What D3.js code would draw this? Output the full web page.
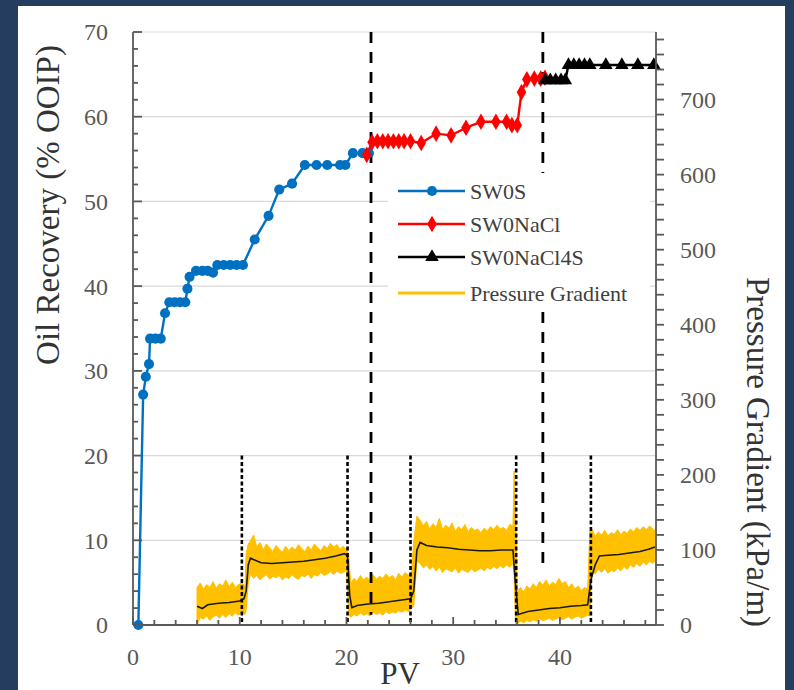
<!DOCTYPE html>
<html>
<head>
<meta charset="utf-8">
<script src="https://cdn.jsdelivr.net/npm/d3@7"></script>
<style>
  html, body { margin: 0; padding: 0; background: #253d5e; }
  svg { display: block; }
</style>
</head>
<body>
<div id="chart"></div>
<script>
'use strict';

// Oil recovery (% OOIP) vs PV, one array pair per brine
const sw0sPV = [0.5, 0.95, 1.2, 1.5, 1.6, 2.1, 2.6, 3.0, 3.4, 3.9, 4.4, 4.9, 5.1, 5.3, 5.9, 6.5, 7.0, 7.5, 7.9, 8.5, 9.1, 9.7, 10.3, 11.4, 12.7, 13.7, 14.9, 16.1, 17.2, 18.2, 19.4, 19.9, 20.6, 21.5, 22.1];
const sw0sRec = [0, 27.2, 29.3, 30.8, 33.8, 33.8, 33.8, 36.8, 38.1, 38.1, 38.1, 38.1, 39.7, 41.1, 41.8, 41.8, 41.8, 41.6, 42.5, 42.5, 42.5, 42.5, 42.5, 45.5, 48.3, 51.4, 52.1, 54.3, 54.3, 54.3, 54.3, 54.3, 55.7, 55.7, 55.7];

const naclPV = [21.9, 22.4, 22.9, 23.4, 23.9, 24.4, 24.9, 25.4, 26.0, 27.0, 28.4, 29.8, 31.2, 32.6, 34.0, 35.0, 35.5, 36.0, 36.4, 36.9, 37.6, 38.2, 38.6];
const naclRec = [55.5, 57.0, 57.1, 57.1, 57.1, 57.1, 57.1, 57.1, 57.1, 56.9, 58.0, 57.8, 58.7, 59.4, 59.4, 59.4, 59.0, 59.0, 62.9, 64.4, 64.5, 64.5, 64.6];

const nacl4sPV = [38.6, 39.1, 39.6, 40.1, 40.5, 40.8, 41.3, 41.8, 42.3, 42.8, 44.3, 45.8, 47.3, 48.8];
const nacl4sRec = [64.3, 64.3, 64.3, 64.3, 64.3, 66.1, 66.1, 66.1, 66.1, 66.1, 66.1, 66.1, 66.1, 66.1];

// Pressure gradient (kPa/m): noisy raw band (upper / lower envelope) and smoothed trace
const bandPV = [6.0, 6.3, 6.6, 6.9, 7.2, 7.5, 7.8, 8.1, 8.4, 8.7, 9.0, 9.3, 9.6, 9.9, 10.2, 10.5,
  10.6, 10.8,
  11.0, 11.3, 11.6, 11.9, 12.2, 12.5, 12.8, 13.1, 13.4, 13.7, 14.0, 14.3, 14.6, 14.9, 15.2, 15.5, 15.8, 16.1, 16.4, 16.7, 17.0, 17.3, 17.6, 17.9, 18.2, 18.5, 18.8, 19.1, 19.4, 19.7, 20.0,
  20.2,
  20.4, 20.7, 21.0, 21.3, 21.6, 21.9, 22.2, 22.5, 22.8, 23.1, 23.4, 23.7, 24.0, 24.3, 24.6, 24.9, 25.2, 25.5, 25.8, 26.1,
  26.3, 26.6,
  26.9, 27.2, 27.5, 27.8, 28.1, 28.4, 28.7, 29.0, 29.3, 29.6, 29.9, 30.2, 30.5, 30.8, 31.1, 31.4, 31.7, 32.0, 32.3, 32.6, 32.9, 33.2, 33.5, 33.8, 34.1, 34.4, 34.7, 35.0, 35.3, 35.6,
  35.7, 35.85,
  36.0, 36.3, 36.6, 36.9, 37.2, 37.5, 37.8, 38.1, 38.4, 38.7, 39.0, 39.3, 39.6, 39.9, 40.2, 40.5, 40.8, 41.1, 41.4, 41.7, 42.0, 42.3, 42.6,
  42.8,
  43.0, 43.3, 43.6, 43.9, 44.2, 44.5, 44.8, 45.1, 45.4, 45.7, 46.0, 46.3, 46.6, 46.9, 47.2, 47.5, 47.8, 48.1, 48.4, 48.7,
  48.9];
const bandHigh = [50, 56, 48, 54, 50, 58, 49, 55, 52, 60, 51, 57, 50, 54, 56, 52,
  95, 108,
  112, 120, 104, 110, 100, 108, 103, 98, 106, 101, 97, 105, 99, 104, 100, 107, 102, 98, 105, 100, 108, 103, 99, 106, 102, 109, 104, 107, 101, 105, 100,
  95,
  55, 62, 58, 66, 60, 64, 59, 67, 61, 65, 62, 68, 63, 66, 60, 69, 64, 70, 66, 72,
  110, 145,
  140, 132, 138, 128, 135, 130, 142, 127, 133, 129, 136, 125, 131, 127, 134, 124, 130, 126, 128, 123, 129, 125, 131, 127, 133, 128, 130, 126, 134, 132,
  205, 150,
  45, 50, 44, 52, 48, 55, 50, 58, 53, 60, 52, 57, 54, 62, 55, 58, 50, 55, 48, 52, 46, 50, 48,
  125,
  128, 118, 124, 120, 126, 119, 123, 121, 127, 120, 125, 122, 128, 124, 130, 126, 131, 127, 132, 128,
  125];
const bandLow = [0, 10, 8, 12, 6, 11, 13, 9, 14, 10, 15, 12, 16, 13, 17, 14,
  20, 55,
  68, 62, 66, 60, 64, 67, 61, 65, 63, 66, 60, 64, 62, 67, 63, 61, 66, 64, 68, 62, 67, 65, 70, 66, 68, 71, 67, 72, 69, 70, 73,
  15,
  10, 14, 12, 16, 13, 15, 12, 17, 14, 16, 13, 18, 15, 17, 16, 19, 17, 20, 18, 22,
  25, 85,
  82, 76, 80, 74, 78, 72, 77, 70, 75, 73, 71, 76, 69, 74, 72, 70, 75, 71, 73, 76, 72, 77, 74, 78, 75, 79, 76, 80, 77, 82,
  70, 0,
  2, 5, 3, 6, 4, 7, 5, 8, 6, 7, 9, 6, 8, 10, 7, 9, 11, 8, 10, 12, 9, 11, 13,
  12,
  72, 68, 74, 70, 75, 69, 73, 71, 76, 72, 78, 74, 80, 77, 82, 78, 84, 80, 85, 82,
  85];

const meanPV = [6.0, 6.5, 7.0, 8.0, 9.0, 10.0, 10.4, 10.6, 10.8, 11.0, 11.5, 12.0, 13.0, 14.0, 15.0, 16.0, 17.0, 18.0, 19.0, 19.8, 20.1, 20.3, 20.5, 21.0, 22.0, 23.0, 24.0, 25.0, 26.0, 26.3, 26.6, 26.9, 27.5, 28.5, 29.5, 30.5, 31.5, 32.5, 33.5, 34.5, 35.6, 35.8, 36.1, 37.0, 38.0, 39.0, 40.0, 41.0, 42.0, 42.6, 42.9, 43.3, 43.7, 44.5, 45.5, 46.5, 47.5, 48.3, 48.9];
const meanGrad = [25, 22, 27, 29, 30, 32, 35, 45, 80, 89, 86, 83, 82, 83, 84, 85, 87, 89, 92, 95, 92, 40, 23, 26, 28, 29, 31, 33, 35, 45, 100, 110, 106, 104, 103, 101, 100, 99, 99, 100, 100, 60, 14, 18, 20, 22, 23, 25, 26, 27, 60, 80, 92, 93, 94, 96, 98, 101, 104];

// brine switch markers
const switchPV = [22.3, 38.4];
const switchEnd = [1.2, 6.3];          // lower end, in % OOIP units
const rateChangePV = [10.2, 20.1, 26.0, 35.9, 42.9];
const rateChangeTop = 20;

const leftTicks = [0, 10, 20, 30, 40, 50, 60, 70];
const rightTicks = [0, 100, 200, 300, 400, 500, 600, 700];
const xTicks = [0, 10, 20, 30, 40];

const legendNames = ['SW0S', 'SW0NaCl', 'SW0NaCl4S', 'Pressure Gradient'];

const W = 794, H = 690;
const plot = { left: 133, right: 656, top: 32, bottom: 625 };
const serif = '"Liberation Serif", "Times New Roman", serif';
const axisColor = '#595959';
const blue = '#0070c0', red = '#ff0000', black = '#000000', gold = '#ffc000';

const svg = d3.select('#chart').append('svg').attr('width', W).attr('height', H);

svg.append('rect').attr('x', 18).attr('y', 6).attr('width', 767).attr('height', H - 6).attr('fill', '#ffffff');

const x = d3.scaleLinear().domain([0, 49]).range([plot.left, plot.right]);
const y = d3.scaleLinear().domain([0, 70]).range([plot.bottom, plot.top]);
const y2 = d3.scaleLinear().domain([0, 790]).range([plot.bottom, plot.top]);

// gridlines
svg.append('g').selectAll('line').data(leftTicks.slice(1)).enter().append('line')
    .attr('x1', plot.left).attr('x2', plot.right)
    .attr('y1', d => y(d)).attr('y2', d => y(d))
    .attr('stroke', '#d9d9d9').attr('stroke-width', 1.2);

// pressure gradient band + smoothed trace
const bandData = bandPV.map((d, i) => ({ pv: d, hi: bandHigh[i], lo: bandLow[i] }));
svg.append('path').datum(bandData)
    .attr('fill', gold).attr('stroke', gold).attr('stroke-width', 1)
    .attr('d', d3.area().x(d => x(d.pv)).y0(d => y2(d.lo)).y1(d => y2(d.hi)));

svg.append('path').datum(meanPV.map((d, i) => [d, meanGrad[i]]))
    .attr('fill', 'none').attr('stroke', '#1a1a1a').attr('stroke-width', 1.6)
    .attr('d', d3.line().x(d => x(d[0])).y(d => y2(d[1])));

// dotted (rate change) and dashed (brine switch) verticals
svg.append('g').selectAll('line').data(rateChangePV).enter().append('line')
    .attr('x1', d => x(d)).attr('x2', d => x(d))
    .attr('y1', y(rateChangeTop)).attr('y2', y(0))
    .attr('stroke', black).attr('stroke-width', 2.6).attr('stroke-dasharray', '4,2.5');

svg.append('g').selectAll('line').data(switchPV).enter().append('line')
    .attr('x1', d => x(d)).attr('x2', d => x(d))
    .attr('y1', y(70)).attr('y2', (d, i) => y(switchEnd[i]))
    .attr('stroke', black).attr('stroke-width', 2.8).attr('stroke-dasharray', '11,9');

// oil recovery series
const series = [
    { pv: sw0sPV, rec: sw0sRec, color: blue, symbol: d3.symbolCircle, size: 80 },
    { pv: naclPV, rec: naclRec, color: red, symbol: d3.symbolDiamond, size: 80 },
    { pv: nacl4sPV, rec: nacl4sRec, color: black, symbol: d3.symbolTriangle, size: 80 }
];
const recLine = d3.line().x(d => x(d[0])).y(d => y(d[1]));

series.forEach(function(s) {
    const pts = s.pv.map((d, i) => [d, s.rec[i]]);
    svg.append('path').datum(pts)
        .attr('fill', 'none').attr('stroke', s.color).attr('stroke-width', 2.4)
        .attr('d', recLine);
    svg.append('g').selectAll('path').data(pts).enter().append('path')
        .attr('transform', d => `translate(${x(d[0])},${y(d[1])})`)
        .attr('d', d3.symbol().type(s.symbol).size(s.size))
        .attr('fill', s.color);
});

// legend
const legend = svg.append('g').attr('transform', 'translate(388,173)');
legend.append('rect').attr('width', 262).attr('height', 137).attr('fill', '#ffffff');
const legendRows = [18, 51, 84, 120];
legendNames.forEach(function(name, i) {
    const row = legend.append('g').attr('transform', `translate(0,${legendRows[i]})`);
    const color = [blue, red, black, gold][i];
    row.append('line').attr('x1', 10).attr('x2', 77).attr('stroke', color).attr('stroke-width', i === 3 ? 3 : 2.4);
    if (i < 3) {
        row.append('path').attr('transform', 'translate(44,0)')
            .attr('d', d3.symbol().type(series[i].symbol).size(series[i].size)).attr('fill', color);
    }
    row.append('text').attr('x', 82).attr('dy', '0.35em')
        .style('font-family', serif).style('font-size', '22px').attr('fill', '#404040')
        .text(name);
});

// axes
const axes = svg.append('g').attr('stroke', axisColor).attr('stroke-width', 1.8);
axes.append('line').attr('x1', plot.left).attr('x2', plot.left).attr('y1', plot.top).attr('y2', plot.bottom);
axes.append('line').attr('x1', plot.right).attr('x2', plot.right).attr('y1', plot.top).attr('y2', plot.bottom);
axes.append('line').attr('x1', plot.left).attr('x2', plot.right).attr('y1', plot.bottom).attr('y2', plot.bottom);

// left ticks: inward, minor every 2
axes.selectAll('.ltick').data(d3.range(0, 71, 2)).enter().append('line')
    .attr('x1', plot.left).attr('x2', d => plot.left + (d % 10 === 0 ? 9 : 5))
    .attr('y1', d => y(d)).attr('y2', d => y(d));
// bottom ticks: inward, minor every 2
axes.selectAll('.btick').data(d3.range(0, 49, 2)).enter().append('line')
    .attr('x1', d => x(d)).attr('x2', d => x(d))
    .attr('y1', plot.bottom).attr('y2', d => plot.bottom - (d % 10 === 0 ? 8 : 5));
// right ticks: outward, minor every 20
axes.selectAll('.rtick').data(d3.range(0, 781, 20)).enter().append('line')
    .attr('x1', plot.right).attr('x2', plot.right + 8)
    .attr('y1', d => y2(d)).attr('y2', d => y2(d));

const tickFont = function(sel) {
    sel.style('font-family', serif).style('font-size', '24px').attr('fill', axisColor);
};
svg.append('g').selectAll('text').data(leftTicks).enter().append('text')
    .attr('x', 108).attr('y', d => y(d)).attr('dy', '0.35em').attr('text-anchor', 'end')
    .call(tickFont).text(d => d);
svg.append('g').selectAll('text').data(rightTicks).enter().append('text')
    .attr('x', 680).attr('y', d => y2(d)).attr('dy', '0.35em')
    .call(tickFont).text(d => d);
svg.append('g').selectAll('text').data(xTicks).enter().append('text')
    .attr('x', d => x(d)).attr('y', 665).attr('text-anchor', 'middle')
    .call(tickFont).text(d => d);

// axis titles
const titleFont = function(sel) {
    sel.style('font-family', serif).style('font-size', '33px').attr('fill', '#333333').attr('text-anchor', 'middle');
};
svg.append('text').attr('transform', 'translate(47,205) rotate(-90)').attr('dy', '0.35em')
    .call(titleFont).text('Oil Recovery (% OOIP)');
svg.append('text').attr('transform', 'translate(759,452) rotate(90)').attr('dy', '0.35em')
    .call(titleFont).text('Pressure Gradient (kPa/m)');
svg.append('text').attr('x', 400).attr('y', 684)
    .call(titleFont).style('font-size', '31px').text('PV');
</script>
</body>
</html>
